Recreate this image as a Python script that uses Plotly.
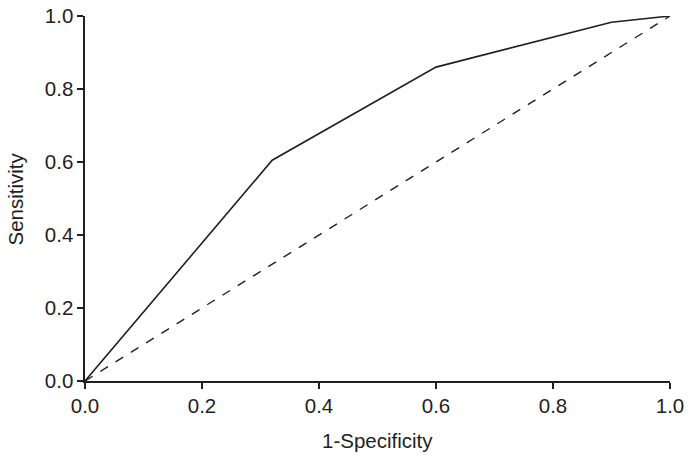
import plotly.graph_objects as go

fpr = [0.0, 0.32, 0.60, 0.90, 1.0]
tpr = [0.0, 0.605, 0.86, 0.983, 1.0]
ref_x = [0.0, 1.0]
ref_y = [0.0, 1.0]
tick_vals = [0.0, 0.2, 0.4, 0.6, 0.8, 1.0]
tick_text = ["0.0", "0.2", "0.4", "0.6", "0.8", "1.0"]

col = "#231f20"
fam = "Liberation Sans, Arial"
fig = go.Figure()
fig.add_trace(go.Scatter(x=ref_x, y=ref_y, mode="lines", hoverinfo="skip",
                         line=dict(color=col, width=1.4, dash="dash"), showlegend=False))
fig.add_trace(go.Scatter(x=fpr, y=tpr, mode="lines", hoverinfo="skip",
                         line=dict(color=col, width=1.6), showlegend=False))

axis_common = dict(range=[0, 1], tickvals=tick_vals, ticktext=tick_text,
                   showgrid=False, zeroline=False, showline=True, linecolor=col,
                   linewidth=1.6, ticks="outside", ticklen=6, tickwidth=1.4,
                   tickcolor=col, automargin=False,
                   tickfont=dict(size=20.5, color=col, family=fam))
fig.update_xaxes(**axis_common)
fig.update_yaxes(**axis_common)
fig.add_annotation(text="1-Specificity", xref="paper", yref="paper", x=0.5, y=-0.164,
                   xanchor="center", yanchor="middle", showarrow=False,
                   font=dict(size=20.5, color=col, family=fam))
fig.add_annotation(text="Sensitivity", xref="paper", yref="paper", x=-0.118, y=0.5,
                   xanchor="center", yanchor="middle", showarrow=False, textangle=-90,
                   font=dict(size=20.5, color=col, family=fam))
fig.update_layout(width=693, height=461, plot_bgcolor="white", paper_bgcolor="white",
                  margin=dict(l=85, r=23, t=16, b=80))
fig.write_html("out.html", config={"displayModeBar": False, "staticPlot": True},
               post_script="document.body.style.margin='0';document.body.style.overflow='hidden';")
